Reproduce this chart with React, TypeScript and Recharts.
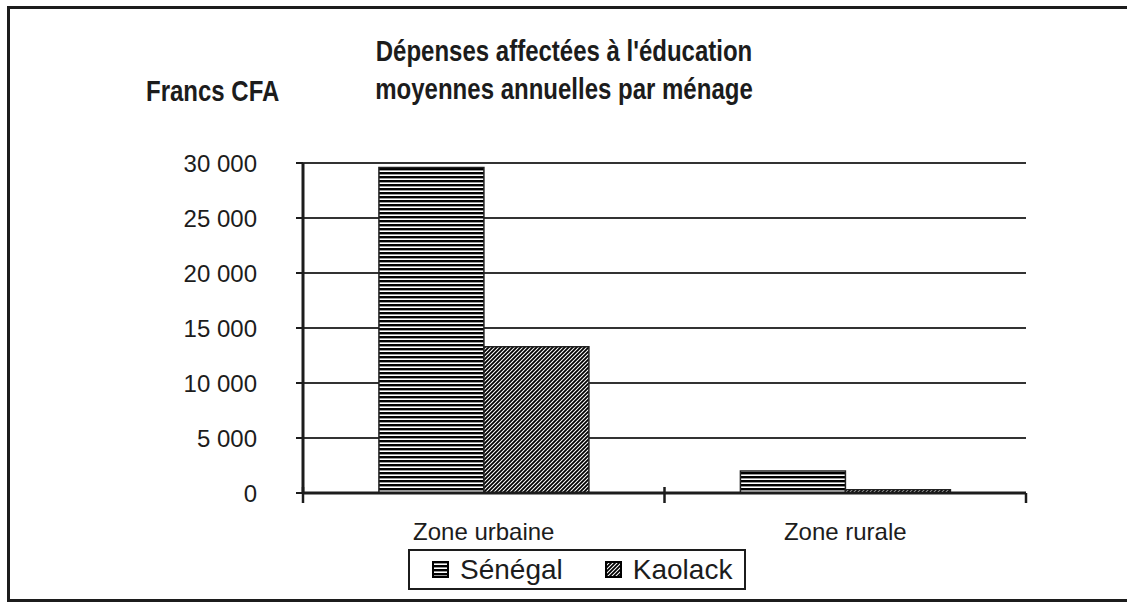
import React from 'react';
import { BarChart, Bar, XAxis, YAxis, CartesianGrid } from 'recharts';

const categories = ['Zone urbaine', 'Zone rurale'];
const senegal = [29600, 2000];
const kaolack = [13300, 300];
const yTicks = [0, 5000, 10000, 15000, 20000, 25000, 30000];
const seriesNames = ['Sénégal', 'Kaolack'];
const titleLines = ["Dépenses affectées à l'éducation", 'moyennes annuelles par ménage'];
const unitLabel = 'Francs CFA';

const data = categories.map((zone, i) => ({
  zone,
  senegal: senegal[i],
  kaolack: kaolack[i]
}));

const INK = '#1c1c1c';
const sans = '"Liberation Sans", Arial, sans-serif';

const formatThousands = (v: number) => String(v).replace(/\B(?=(\d{3})+(?!\d))/g, ' ');

function Patterns() {
  return (
    <svg width={0} height={0} style={{ position: 'absolute' }}>
      <defs>
        <pattern id="pat-senegal" width={4} height={4} patternUnits="userSpaceOnUse">
          <rect width={4} height={4} fill="#fff" />
          <rect width={4} height={2.4} fill="#000" />
        </pattern>
        <pattern id="pat-kaolack" width={4} height={4} patternUnits="userSpaceOnUse">
          <rect width={4} height={4} fill="#fff" />
          <path d="M-1,1 l2,-2 M0,4 l4,-4 M3,5 l2,-2" stroke="#000" strokeWidth={1.8} />
        </pattern>
      </defs>
    </svg>
  );
}

function ZoneTick(props: any) {
  const { x, y, payload, index, visibleTicksCount } = props;
  const half = payload?.offset ?? 0;
  const isLast = index === visibleTicksCount - 1;
  return (
    <g>
      <line x1={x - half} x2={x - half} y1={y - 6} y2={y + 10} stroke={INK} strokeWidth={2.5} />
      {isLast && (
        <line x1={x + half} x2={x + half} y1={y} y2={y + 10} stroke={INK} strokeWidth={2.5} />
      )}
      <text x={x} y={y + 47} textAnchor="middle" fontFamily={sans} fontSize={24} fill={INK}>
        {payload.value}
      </text>
    </g>
  );
}

const condensed: React.CSSProperties = {
  fontFamily: sans,
  fontWeight: 'bold',
  fontSize: 30,
  lineHeight: '38px',
  color: INK,
  whiteSpace: 'nowrap',
  transform: 'scaleX(0.8)'
};

export default function App() {
  return (
    <div
      style={{
        position: 'fixed',
        left: 0,
        top: 0,
        width: 1127,
        height: 603,
        overflow: 'hidden',
        background: '#fff'
      }}
    >
      <Patterns />
      <div
        style={{
          position: 'absolute',
          left: 7,
          top: 6,
          width: 1140,
          height: 590,
          border: `3px solid ${INK}`
        }}
      />
      <div
        style={{
          position: 'absolute',
          left: 264,
          top: 32,
          width: 600,
          textAlign: 'center',
          ...condensed,
          transformOrigin: '300px 0'
        }}
      >
        {titleLines.map((t) => (
          <div key={t}>{t}</div>
        ))}
      </div>
      <div
        style={{
          position: 'absolute',
          left: 146,
          top: 72,
          ...condensed,
          transformOrigin: '0 0'
        }}
      >
        {unitLabel}
      </div>

      <div style={{ position: 'absolute', left: 0, top: 0 }}>
        <BarChart
          width={1127}
          height={603}
          data={data}
          margin={{ top: 163, right: 101, bottom: 50, left: 0 }}
          barCategoryGap="21%"
          barGap={0}
        >
          <CartesianGrid vertical={false} stroke="#333" strokeWidth={2} />
          <XAxis
            dataKey="zone"
            height={60}
            axisLine={{ stroke: INK, strokeWidth: 3 }}
            tickLine={false}
            tickSize={0}
            tickMargin={0}
            tick={<ZoneTick />}
            interval={0}
          />
          <YAxis
            width={303}
            domain={[0, 30000]}
            ticks={yTicks}
            tickFormatter={formatThousands}
            axisLine={{ stroke: INK, strokeWidth: 3 }}
            tickLine={{ stroke: INK, strokeWidth: 2 }}
            tickSize={7}
            tickMargin={39}
            tick={{ fontFamily: sans, fontSize: 24, fill: INK }}
          />
          <YAxis
            yAxisId="frame"
            orientation="right"
            width={0}
            domain={[0, 30000]}
            tick={false}
            tickLine={false}
            axisLine={{ stroke: INK, strokeWidth: 3 }}
          />
          <Bar
            dataKey="senegal"
            name={seriesNames[0]}
            fill="url(#pat-senegal)"
            stroke="#222"
            strokeWidth={1.5}
            isAnimationActive={false}
          />
          <Bar
            dataKey="kaolack"
            name={seriesNames[1]}
            fill="url(#pat-kaolack)"
            stroke="#222"
            strokeWidth={1.5}
            isAnimationActive={false}
          />
        </BarChart>
      </div>

      <div
        style={{
          position: 'absolute',
          left: 408,
          top: 549,
          width: 334,
          height: 37,
          border: `2px solid ${INK}`,
          display: 'flex',
          alignItems: 'center',
          fontFamily: sans,
          fontSize: 28,
          color: INK,
          boxSizing: 'content-box'
        }}
      >
        {seriesNames.map((name, i) => (
          <div
            key={name}
            style={{ display: 'flex', alignItems: 'center', marginLeft: i === 0 ? 22 : 42 }}
          >
            <svg width={17} height={17} style={{ marginRight: 11 }}>
              <rect
                x={1}
                y={1}
                width={15}
                height={15}
                fill={i === 0 ? 'url(#pat-senegal)' : 'url(#pat-kaolack)'}
                stroke="#000"
                strokeWidth={2}
              />
            </svg>
            <span>{name}</span>
          </div>
        ))}
      </div>
    </div>
  );
}
